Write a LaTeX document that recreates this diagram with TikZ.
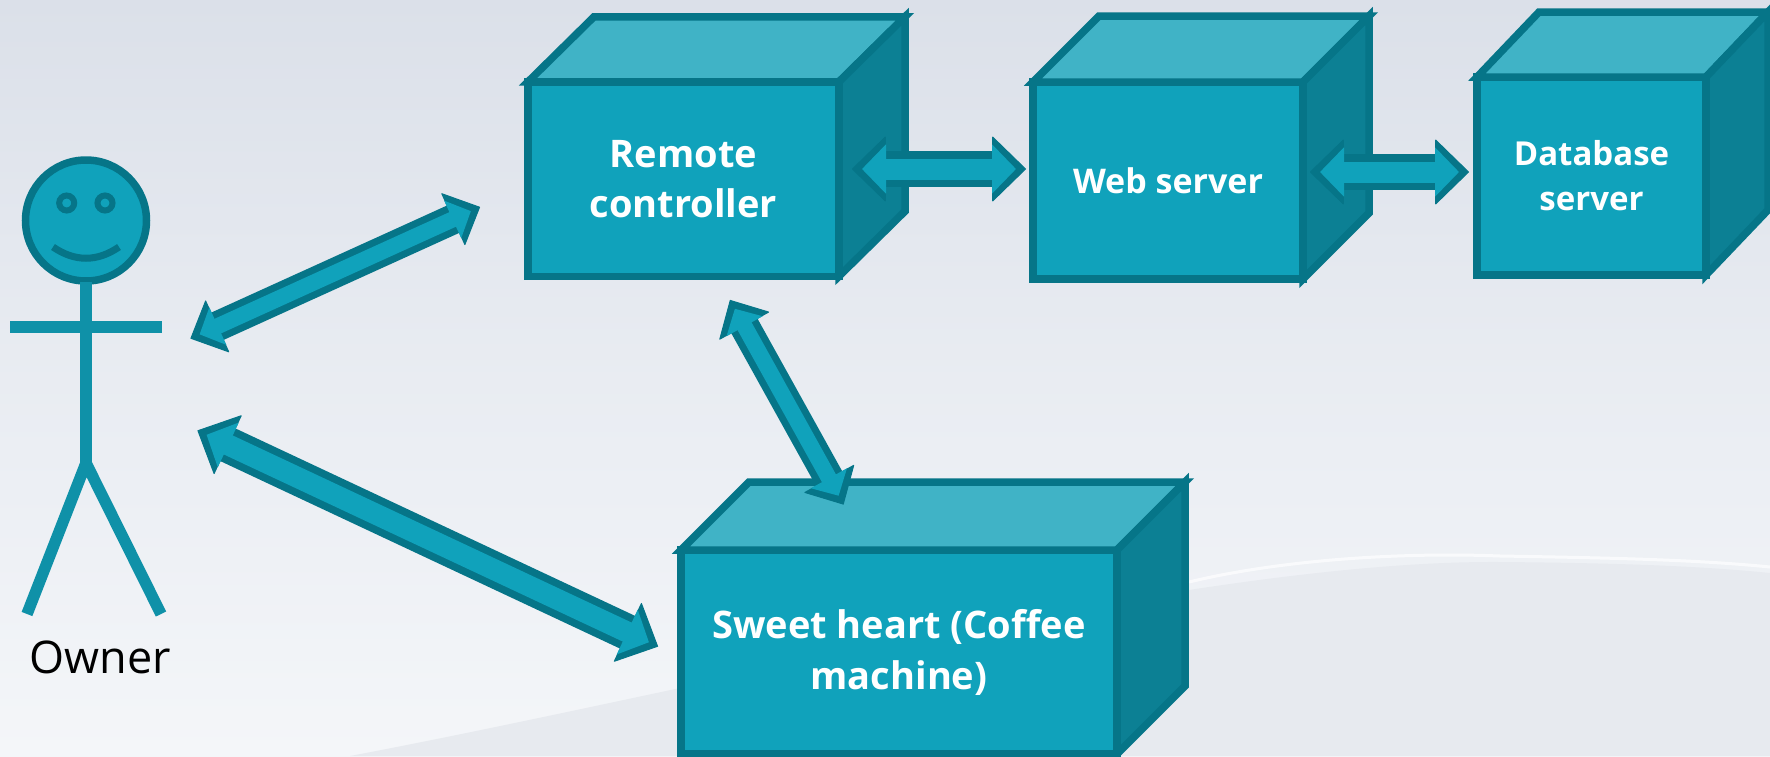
\documentclass[tikz,border=0pt]{standalone}
\usepackage{fontspec}
\setmainfont{Open Sans}
\usetikzlibrary{arrows.meta,positioning}
\definecolor{boxfront}{HTML}{10A2BB}
\definecolor{boxline}{HTML}{067588}
\definecolor{boxtop}{HTML}{40B3C6}
\definecolor{boxside}{HTML}{0C8094}
\definecolor{stickline}{HTML}{0F91A8}
\definecolor{bgtop}{HTML}{DBE0E9}
\definecolor{bgbottom}{HTML}{F4F6F9}
\definecolor{bgswoosh}{HTML}{E7EAEF}
\tikzset{
  frontface/.style={draw=boxline, fill=boxfront, line width=7.5pt, outer sep=0pt, inner sep=0pt, text=white, align=center, font=\bfseries},
  topface/.style={draw=boxline, fill=boxtop, line width=7.5pt, line join=miter},
  sideface/.style={draw=boxline, fill=boxside, line width=7.5pt, line join=miter},
  stick/.style={draw=stickline, line width=11.5pt},
  bigarrow/.style={line width=21pt, boxfront, shorten >=10pt, shorten <=10pt,
    {Triangle[length=24pt,width=48pt]}-{Triangle[length=24pt,width=48pt]},
    preaction={draw, boxline, line width=36pt, shorten >=0pt, shorten <=0pt,
    {Triangle[length=34pt,width=66pt,round,fill=boxline,line width=1pt]}-{Triangle[length=34pt,width=66pt,round,fill=boxline,line width=1pt]}}},
  slimarrow/.style={line width=16pt, boxfront, shorten >=10pt, shorten <=10pt,
    {Triangle[length=20pt,width=40pt]}-{Triangle[length=20pt,width=40pt]},
    preaction={draw, boxline, line width=30pt, shorten >=0pt, shorten <=0pt,
    {Triangle[length=30pt,width=58pt,round,fill=boxline,line width=1pt]}-{Triangle[length=30pt,width=58pt,round,fill=boxline,line width=1pt]}}}
}
\begin{document}
\begin{tikzpicture}[x=1pt,y=-1pt]
    \useasboundingbox (0,0) rectangle (1770,756);
    % Background
    \shade[top color=bgtop, bottom color=bgbottom, middle color=bgtop!45!bgbottom] (0,0) rectangle (1770,756);
    \fill[bgswoosh] (350,756) .. controls (700,690) and (1200,560) .. (1500,562) .. controls (1620,563) and (1700,566) .. (1770,573) -- (1770,756) -- cycle;
    \draw[white, line width=3pt, opacity=0.7] (1189,582) .. controls (1280,560) and (1400,552) .. (1500,556) .. controls (1620,558) and (1700,560) .. (1770,567);

    % Boxes
    \node[frontface, minimum width=311pt, minimum height=194.5pt, font=\bfseries\fontsize{38}{50}\selectfont] (remote) at (683.5,179) {Remote\\controller};
    \node[frontface, minimum width=270pt, minimum height=197pt, font=\bfseries\fontsize{34}{44}\selectfont] (web) at (1168,180.5) {Web server};
    \node[frontface, minimum width=229pt, minimum height=198pt, font=\bfseries\fontsize{33}{45}\selectfont] (database) at (1591.5,176) {Database\\server};
    \node[frontface, minimum width=436pt, minimum height=204pt, font=\bfseries\fontsize{38}{51}\selectfont] (sweetheart) at (899,652) {Sweet heart (Coffee\\machine)};

    \filldraw[topface] (remote.north west) -- ++(66,-65) -- ++(311,0) -- (remote.north east) -- cycle;
    \filldraw[sideface] (remote.north east) -- ++(66,-65) -- ++(0,194.5) -- (remote.south east) -- cycle;
    \filldraw[topface] (web.north west) -- ++(66,-66) -- ++(270,0) -- (web.north east) -- cycle;
    \filldraw[sideface] (web.north east) -- ++(66,-66) -- ++(0,197) -- (web.south east) -- cycle;
    \filldraw[topface] (database.north west) -- ++(62,-65) -- ++(229,0) -- (database.north east) -- cycle;
    \filldraw[sideface] (database.north east) -- ++(62,-65) -- ++(0,198) -- (database.south east) -- cycle;
    \filldraw[topface] (sweetheart.north west) -- ++(68,-68) -- ++(436,0) -- (sweetheart.north east) -- cycle;
    \filldraw[sideface] (sweetheart.north east) -- ++(68,-68) -- ++(0,204) -- (sweetheart.south east) -- cycle;

    % Owner
    \node[circle, draw=boxline, fill=boxfront, line width=7.5pt, minimum size=121pt, inner sep=0pt] (head) at (86,220.5) {};
    \node[circle, draw=boxline, fill=boxfront, line width=6pt, minimum size=15pt, inner sep=0pt] (lefteye) at (66.7,203) {};
    \node[circle, draw=boxline, fill=boxfront, line width=6pt, minimum size=15pt, inner sep=0pt] (righteye) at (105,203) {};
    \coordinate (smilestart) at (53,247);
    \coordinate (smileend) at (119,247);
    \draw[boxline, line width=7pt] (smilestart) .. controls (75,262) and (97,262) .. (smileend);
    \coordinate (neck) at (86,282);
    \coordinate (hip) at (86,463);
    \coordinate (handleft) at (10,327);
    \coordinate (handright) at (162,327);
    \coordinate (footleft) at (27,614);
    \coordinate (footright) at (161,614);
    \draw[stick] (neck) -- (hip);
    \draw[stick] (handleft) -- (handright);
    \draw[stick, line join=miter] (footleft) -- (hip) -- (footright);
    \node[anchor=base, font=\fontsize{45}{50}\selectfont] (owner) at (100,673) {Owner};

    % Arrows
    \coordinate (ownerup) at (190.5,338.5);
    \coordinate (remoteleft) at (480,207);
    \coordinate (remotedown) at (730,300);
    \coordinate (sweetup) at (843.5,504.5);
    \coordinate (ownerdown) at (197.5,430.5);
    \coordinate (sweetleft) at (658,646.5);
    \coordinate (remoteright) at (852,169);
    \coordinate (webleft) at (1026,169);
    \coordinate (webright) at (1310,172);
    \coordinate (databaseleft) at (1469,172);

    \draw[slimarrow] (ownerup) -- (remoteleft);
    \draw[slimarrow] (remotedown) -- (sweetup);
    \draw[bigarrow] (ownerdown) -- (sweetleft);
    \draw[bigarrow] (remoteright) -- (webleft);
    \draw[bigarrow] (webright) -- (databaseleft);
\end{tikzpicture}
\end{document}
